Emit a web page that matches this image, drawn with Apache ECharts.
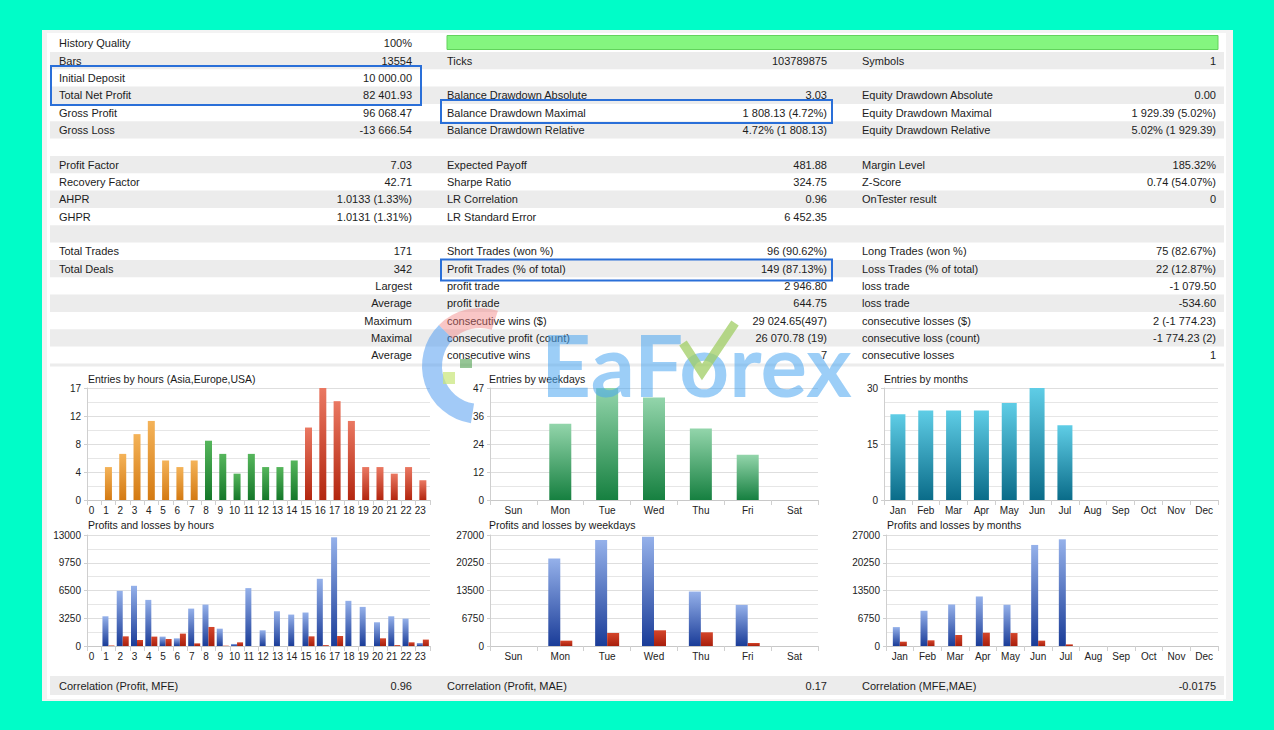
<!DOCTYPE html>
<html><head><meta charset="utf-8">
<script src="https://cdn.jsdelivr.net/npm/echarts@6/dist/echarts.min.js"></script>
<style>html,body{margin:0;padding:0;background:#00fdc8;}#c{width:1274px;height:730px;}</style>
</head><body><div id="c"></div>
<script>
// ---------- DATA ----------
const hourLabels = ['0','1','2','3','4','5','6','7','8','9','10','11','12','13','14','15','16','17','18','19','20','21','22','23'];
const hourEntries = [0,5,7,10,12,6,5,6,9,7,4,7,5,5,6,11,17,15,12,5,5,4,5,3];
const hourProfits = [0,3480,6460,7050,5400,1100,900,4380,4850,2030,240,6780,1840,4070,3680,3920,7870,12730,5290,4580,2780,3480,3210,350];
const hourLosses  = [0,60,1130,700,1100,820,1450,310,2230,40,430,0,0,0,0,1130,100,1170,0,0,900,100,430,750];
const dayLabels = ['Sun','Mon','Tue','Wed','Thu','Fri','Sat'];
const dayEntries = [0,32,47,43,30,19,0];
const dayProfits = [0,21300,25780,26590,13250,10000,0];
const dayLosses  = [0,1300,3170,3820,3330,730,0];
const monthLabels = ['Jan','Feb','Mar','Apr','May','Jun','Jul','Aug','Sep','Oct','Nov','Dec'];
const monthEntries = [23,24,24,24,26,30,20,0,0,0,0,0];
const monthProfits = [4600,8570,10100,12050,10030,24580,25950,0,0,0,0,0];
const monthLosses  = [1050,1380,2670,3230,3150,1300,400,0,0,0,0,0];

const hourEntryTicks = ['0','4','8','12','17'];
const hourProfitTicks = ['0','3250','6500','9750','13000'];
const dayEntryTicks = ['0','12','24','36','47'];
const dayProfitTicks = ['0','6750','13500','20250','27000'];
const monthEntryTicks = ['0','15','30'];
const monthProfitTicks = ['0','6750','13500','20250','27000'];

const chartTitles = ['Entries by hours (Asia,Europe,USA)','Profits and losses by hours','Entries by weekdays','Profits and losses by weekdays','Entries by months','Profits and losses by months'];

const col1Labels = ['History Quality','Bars','Initial Deposit','Total Net Profit','Gross Profit','Gross Loss','','Profit Factor','Recovery Factor','AHPR','GHPR','','Total Trades','Total Deals','Largest','Average','Maximum','Maximal','Average'];
const col1Values = ['100%','13554','10 000.00','82 401.93','96 068.47','-13 666.54','','7.03','42.71','1.0133 (1.33%)','1.0131 (1.31%)','','171','342','','','','',''];
const col2Labels = ['','Ticks','','Balance Drawdown Absolute','Balance Drawdown Maximal','Balance Drawdown Relative','','Expected Payoff','Sharpe Ratio','LR Correlation','LR Standard Error','','Short Trades (won %)','Profit Trades (% of total)','profit trade','profit trade','consecutive wins ($)','consecutive profit (count)','consecutive wins'];
const col2Values = ['','103789875','','3.03','1 808.13 (4.72%)','4.72% (1 808.13)','','481.88','324.75','0.96','6 452.35','','96 (90.62%)','149 (87.13%)','2 946.80','644.75','29 024.65(497)','26 070.78 (19)','7'];
const col3Labels = ['','Symbols','','Equity Drawdown Absolute','Equity Drawdown Maximal','Equity Drawdown Relative','','Margin Level','Z-Score','OnTester result','','','Long Trades (won %)','Loss Trades (% of total)','loss trade','loss trade','consecutive losses ($)','consecutive loss (count)','consecutive losses'];
const col3Values = ['','1','','0.00','1 929.39 (5.02%)','5.02% (1 929.39)','','185.32%','0.74 (54.07%)','0','','','75 (82.67%)','22 (12.87%)','-1 079.50','-534.60','2 (-1 774.23)','-1 774.23 (2)','1'];
const corrLabels = ['Correlation (Profit, MFE)','Correlation (Profit, MAE)','Correlation (MFE,MAE)'];
const corrValues = ['0.96','0.17','-0.0175'];
const watermarkText = 'EaForex';

// ---------- STYLE / LAYOUT ----------
const FONT = '"Liberation Sans", Arial, sans-serif';
const G = echarts.graphic.LinearGradient;
const grad = (a, b) => new G(0, 0, 0, 1, [{offset: 0, color: a}, {offset: 1, color: b}]);
const C_ORANGE = grad('#f4b359', '#d47a12');
const C_GREEN = grad('#56b65c', '#15782a');
const C_RED = grad('#ea7862', '#b3260f');
const C_WEEK = grad('#93d5ab', '#168040');
const C_MONTH = grad('#5fcde6', '#0a6c89');
const C_PROFIT = grad('#95b1ea', '#1a3c98');
const C_LOSS = grad('#d4452a', '#a81e0c');

const grids = [
  {left: 87, top: 388, width: 343, height: 112},
  {left: 87, top: 535, width: 343, height: 111},
  {left: 490, top: 388, width: 328, height: 112},
  {left: 490, top: 535, width: 328, height: 111},
  {left: 884, top: 388, width: 334, height: 112},
  {left: 886, top: 535, width: 332, height: 111}
].map(g => Object.assign({containLabel: false, outerBoundsMode: 'none'}, g));

function yAxis(i, ticks, minor) {
  const max = Number(ticks[ticks.length - 1]);
  const step = max / (ticks.length - 1);
  return {
    type: 'value', gridIndex: i, min: 0, max: max, interval: step,
    axisLine: {show: true, lineStyle: {color: '#cfcfcf'}},
    axisTick: {show: true, length: 3, lineStyle: {color: '#cfcfcf'}},
    axisLabel: {fontSize: 10, color: '#222', fontFamily: FONT, margin: 6,
      formatter: v => ticks[Math.round(v / step)]},
    splitLine: {show: true, lineStyle: {color: '#dedede'}},
    minorTick: {show: false, splitNumber: minor},
    minorSplitLine: {show: true, lineStyle: {color: '#e6e6e6'}}
  };
}
function xAxis(i, labels, pad) {
  return {
    type: 'category', gridIndex: i, data: labels, boundaryGap: true,
    axisLine: {show: true, lineStyle: {color: '#c8c8c8'}},
    axisTick: {show: true, length: 5, lineStyle: {color: '#d0d0d0'}},
    axisLabel: {interval: 0, fontSize: 10, color: '#222', fontFamily: FONT, margin: 5, padding: pad || 0},
    splitLine: {show: false}
  };
}
function sessionColor(h) { return h < 8 ? C_ORANGE : (h < 15 ? C_GREEN : C_RED); }

const titles = chartTitles.map((t, i) => ({
  text: t, left: [88, 88, 489, 489, 884, 887][i], top: [373, 519, 373, 519, 373, 519][i], padding: 0,
  textStyle: {fontSize: 10.5, fontWeight: 'normal', color: '#1a1a1a', fontFamily: FONT}
}));

// ---------- TABLE GRAPHICS ----------
const els = [];
const ROW0 = 34.6, RH = 17.33;
els.push({type: 'rect', z: -100, shape: {x: 42, y: 30, width: 1191, height: 671}, style: {fill: '#f3f3f3'}});
els.push({type: 'rect', z: -99, shape: {x: 47, y: 33, width: 1179, height: 666}, style: {fill: '#ffffff'}});
for (let i = 0; i < col1Labels.length; i++) {
  if (i % 2 === 1) els.push({type: 'rect', z: -98, shape: {x: 50, y: ROW0 + i * RH, width: 1174, height: RH}, style: {fill: '#ececec'}});
}
els.push({type: 'rect', z: -98, shape: {x: 50, y: 363.5, width: 1174, height: 3}, style: {fill: '#ececec'}});
els.push({type: 'rect', z: -98, shape: {x: 50, y: 676, width: 1174, height: 19}, style: {fill: '#ececec'}});
els.push({type: 'rect', z: -97, shape: {x: 447, y: 35.5, width: 771, height: 14}, style: {fill: '#84f57f', stroke: '#62d35c', lineWidth: 1}});

function txt(s, x, y, align) {
  if (!s) return;
  els.push({type: 'text', z: 10, style: {text: s, x: x, y: y, align: align, verticalAlign: 'middle', fill: '#1c1c1c', font: '11px ' + FONT}});
}
for (let i = 0; i < col1Labels.length; i++) {
  const y = ROW0 + i * RH + RH / 2;
  txt(col1Labels[i], i >= 14 ? 412 : 59, y, i >= 14 ? 'right' : 'left');
  txt(col1Values[i], 412, y, 'right');
  txt(col2Labels[i], 447, y, 'left');
  txt(col2Values[i], 827, y, 'right');
  txt(col3Labels[i], 862, y, 'left');
  txt(col3Values[i], 1216, y, 'right');
}
[[59, 412], [447, 827], [862, 1216]].forEach((p, k) => {
  txt(corrLabels[k], p[0], 685.5, 'left');
  txt(corrValues[k], p[1], 685.5, 'right');
});
[[51, 66, 370, 39], [441, 100, 391, 23], [441, 259.5, 391, 21]].forEach(b => {
  els.push({type: 'rect', z: 20, shape: {x: b[0], y: b[1], width: b[2], height: b[3]}, style: {fill: 'none', stroke: '#2a6fd8', lineWidth: 2}});
});
// watermark
els.push({type: 'sector', z: 50, shape: {cx: 480, cy: 366, r: 58, r0: 38, startAngle: Math.PI * 0.55, endAngle: Math.PI * 1.25, clockwise: true}, style: {fill: 'rgba(70,150,240,0.5)'}});
els.push({type: 'sector', z: 50, shape: {cx: 480, cy: 366, r: 58, r0: 38, startAngle: Math.PI * 1.25, endAngle: Math.PI * 1.6, clockwise: true}, style: {fill: 'rgba(240,120,120,0.42)'}});
els.push({type: 'rect', z: 50, shape: {x: 443, y: 372, width: 12, height: 12}, style: {fill: 'rgba(200,230,120,0.7)'}});
els.push({type: 'rect', z: 50, shape: {x: 460, y: 359, width: 12, height: 9}, style: {fill: 'rgba(80,160,80,0.6)'}});
els.push({type: 'text', z: 50, style: {text: watermarkText, x: 541, y: 363, align: 'left', verticalAlign: 'middle', font: 'bold 87px Lato, ' + FONT, fill: 'rgba(75,165,240,0.55)'}});
els.push({type: 'polyline', z: 51, shape: {points: [[683, 343], [702, 372], [735, 323]]}, style: {stroke: 'rgba(160,205,100,0.75)', lineWidth: 9, fill: 'none'}});

// ---------- CHART ----------
const chart = echarts.init(document.getElementById('c'), null, {renderer: 'svg', width: 1274, height: 730});
chart.setOption({
  backgroundColor: '#00fdc8',
  animation: false,
  title: titles,
  grid: grids,
  xAxis: [xAxis(0, hourLabels, [0, 5, 0, 0]), xAxis(1, hourLabels, [0, 5, 0, 0]), xAxis(2, dayLabels), xAxis(3, dayLabels), xAxis(4, monthLabels), xAxis(5, monthLabels)],
  yAxis: [yAxis(0, hourEntryTicks, 2), yAxis(1, hourProfitTicks, 2), yAxis(2, dayEntryTicks, 2), yAxis(3, dayProfitTicks, 2), yAxis(4, monthEntryTicks, 4), yAxis(5, monthProfitTicks, 2)],
  graphic: {elements: els},
  series: [
    {type: 'bar', xAxisIndex: 0, yAxisIndex: 0, barWidth: 7, data: hourEntries.map((v, h) => ({value: v, itemStyle: {color: sessionColor(h)}}))},
    {type: 'bar', xAxisIndex: 1, yAxisIndex: 1, barWidth: 6, barGap: '0%', data: hourProfits, itemStyle: {color: C_PROFIT}},
    {type: 'bar', xAxisIndex: 1, yAxisIndex: 1, barWidth: 6, barGap: '0%', data: hourLosses, itemStyle: {color: C_LOSS}},
    {type: 'bar', xAxisIndex: 2, yAxisIndex: 2, barWidth: 22, data: dayEntries, itemStyle: {color: C_WEEK}},
    {type: 'bar', xAxisIndex: 3, yAxisIndex: 3, barWidth: 12, barGap: '0%', data: dayProfits, itemStyle: {color: C_PROFIT}},
    {type: 'bar', xAxisIndex: 3, yAxisIndex: 3, barWidth: 12, barGap: '0%', data: dayLosses, itemStyle: {color: C_LOSS}},
    {type: 'bar', xAxisIndex: 4, yAxisIndex: 4, barWidth: 15, data: monthEntries, itemStyle: {color: C_MONTH}},
    {type: 'bar', xAxisIndex: 5, yAxisIndex: 5, barWidth: 7, barGap: '0%', data: monthProfits, itemStyle: {color: C_PROFIT}},
    {type: 'bar', xAxisIndex: 5, yAxisIndex: 5, barWidth: 7, barGap: '0%', data: monthLosses, itemStyle: {color: C_LOSS}}
  ]
});
</script></body></html>
